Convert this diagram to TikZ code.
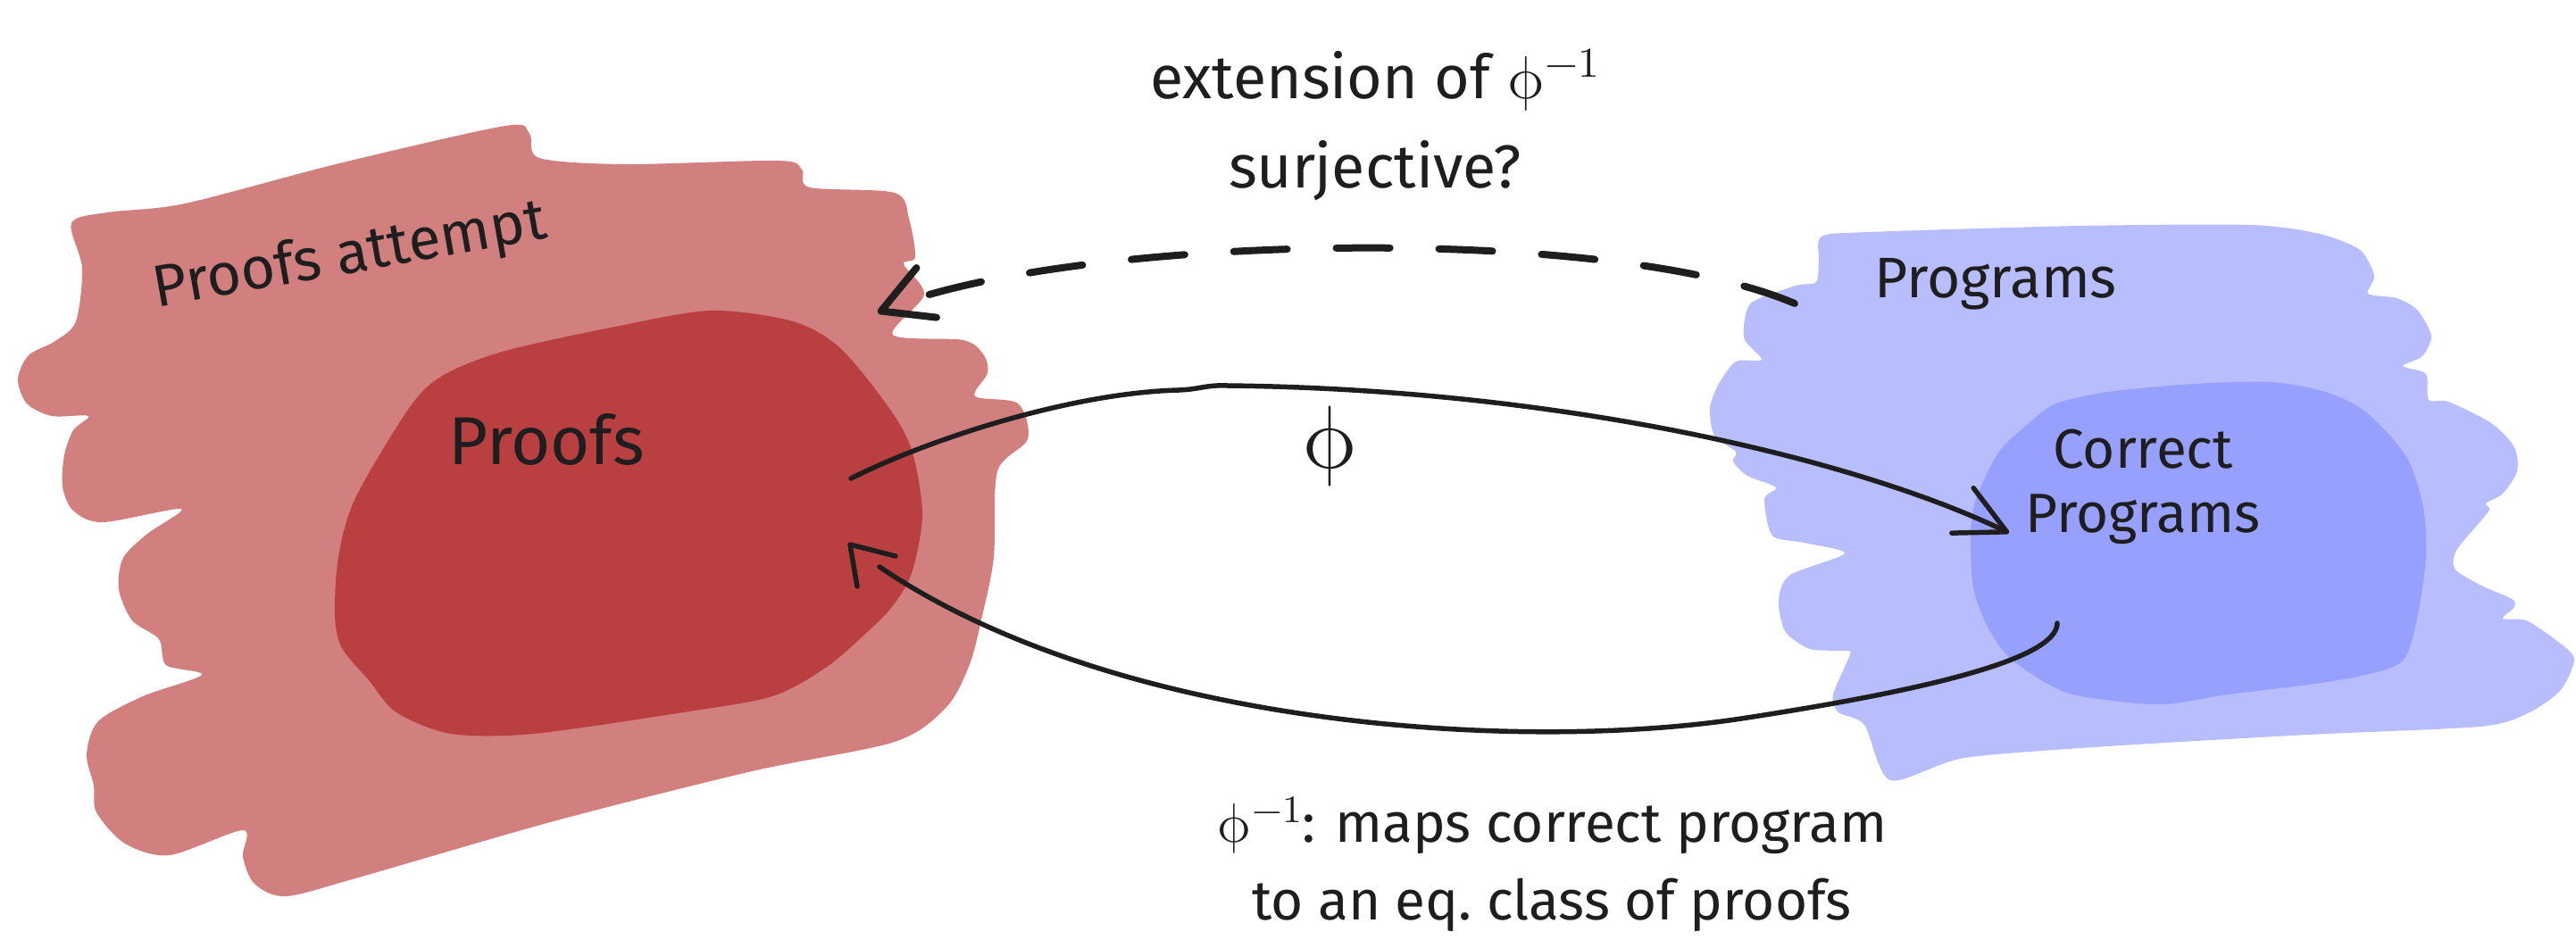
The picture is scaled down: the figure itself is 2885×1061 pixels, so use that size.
\documentclass[tikz,border=0pt]{standalone}
\usepackage{fontspec}
\usepackage{unicode-math}
\setmainfont{Fira Sans}
\setmathfont{Latin Modern Math}
\usetikzlibrary{arrows.meta}
\definecolor{pinkout}{HTML}{D27F7F}
\definecolor{redin}{HTML}{BA3F40}
\definecolor{blueout}{HTML}{B8BEFD}
\definecolor{bluein}{HTML}{97A0FC}
\definecolor{ink}{HTML}{1E1E1E}
\begin{document}
\begin{tikzpicture}[x=1pt,y=-1pt,
  inkline/.style={draw=ink, line width=5.5pt, line cap=round, line join=round},
  dashline/.style={draw=ink, line width=8pt, line cap=round, dash pattern=on 60pt off 55pt},
  lbl/.style={text=ink, inner sep=0pt, align=center}]
\useasboundingbox[fill=white] (0,0) rectangle (2885,1061);
% regions
\fill[pinkout] plot[smooth cycle, tension=0.5] coordinates {
(80,250) (120,238) (207,228) (380,183) (566,141) (593,150) (604,177) (700,184) (872,180) (898,190) (907,210) (1002,216) (1018,245) (1025,288) (1012,296) (1035,330) (1000,375) (1079,381) (1102,398) (1106,418) (1092,444) (1140,452) (1151,492) (1117,528) (1113,624) (1100,690) (1086,744) (1060,792) (1002,831) (842,864) (620,920) (398,984) (320,1004) (285,990) (272,960) (272,930) (190,958) (140,945) (108,910) (105,880) (97,845) (110,808) (160,780) (226,756) (186,745) (178,716) (148,695) (133,660) (138,625) (165,598) (203,570) (115,585) (82,572) (70,545) (72,510) (82,482) (99,466) (58,466) (30,452) (20,425) (32,398) (62,382) (85,360) (92,300)};
\fill[redin] plot[smooth cycle, tension=0.5] coordinates {
(375,690) (379,624) (398,558) (459,456) (497,420) (566,393) (689,366) (796,348) (888,360) (941,390) (995,456) (1021,504) (1033,576) (1021,642) (998,681) (968,711) (926,747) (865,780) (765,798) (597,822) (505,822) (444,798) (413,762) (383,726)};
\fill[blueout] plot[smooth cycle, tension=0.45] coordinates {
(2037,291) (2040,265) (2092,260) (2329,253) (2521,252) (2598,262) (2643,280) (2659,309) (2652,329) (2684,334) (2707,347) (2723,376) (2713,399) (2691,410) (2717,419) (2720,448) (2742,450) (2790,474) (2816,501) (2819,528) (2803,553) (2784,564) (2787,573) (2752,615) (2749,637) (2777,655) (2813,671) (2816,680) (2803,693) (2829,695) (2861,716) (2883,738) (2867,774) (2829,800) (2777,814) (2585,823) (2361,836) (2200,849) (2117,874) (2088,812) (2059,798) (2053,778) (2072,733) (2066,729) (2027,727) (1999,707) (1992,671) (2005,644) (2066,620) (2021,608) (1985,600) (1976,559) (1989,546) (1957,533) (1941,517) (1944,506) (1920,488) (1915,457) (1925,430) (1944,405) (1973,403) (1954,381) (1954,358) (1963,338) (2011,320) (2034,316)};
\fill[bluein] plot[smooth cycle, tension=0.5] coordinates {
(2543,428) (2604,439) (2649,461) (2694,510) (2713,564) (2717,622) (2707,693) (2691,740) (2649,756) (2585,767) (2495,778) (2425,789) (2367,785) (2309,774) (2252,738) (2226,702) (2210,658) (2207,599) (2213,559) (2239,506) (2277,470) (2303,452) (2361,439) (2457,430)};
% labels
\node[lbl, rotate=10, font=\fontsize{66pt}{70pt}\selectfont] (attempt) at (392,288) {Proofs attempt};
\node[lbl, font=\fontsize{76pt}{80pt}\selectfont] (proofs) at (612,492) {Proofs};
\node[lbl, font=\fontsize{64pt}{70pt}\selectfont] (programs) at (2235,318) {Programs};
\node[lbl, font=\fontsize{62pt}{72pt}\selectfont] (correct) at (2400,545) {Correct\\Programs};
\node[lbl, font=\fontsize{100pt}{100pt}\selectfont] (phi) at (1490,500) {$\symup{\phi}$};
\node[lbl, font=\fontsize{68pt}{100pt}\selectfont] (question) at (1540,140) {extension of $\symup{\phi}^{-1}$\\surjective?};
\node[lbl, font=\fontsize{62pt}{87pt}\selectfont] (inverse) at (1738,968) {$\symup{\phi}^{-1}$: maps correct program\\to an eq.\ class of proofs};
% connector end points
\coordinate (dashStart) at (2010,340);
\coordinate (dashEnd) at (983,350);
\coordinate (phiStart) at (953,536);
\coordinate (phiKinkA) at (1320,437);
\coordinate (phiKinkB) at (1375,432);
\coordinate (phiEnd) at (2250,597);
\coordinate (invStart) at (2304,698);
\coordinate (invMid) at (1950,805);
\coordinate (invEnd) at (985,635);
\coordinate (invTip) at (952,610);
\coordinate (invArmA) at (960,657);
\coordinate (invArmB) at (1003,623);
% connectors
\draw[dashline, -{Straight Barb[round, length=55pt, width=60pt]}] (dashStart) .. controls (1800,250) and (1200,262) .. (dashEnd);
\draw[inkline, -{Straight Barb[round, length=55pt, width=56pt]}] (phiStart) .. controls (1040,492) and (1200,440) .. (phiKinkA) .. controls (1345,436) and (1350,431) .. (phiKinkB) .. controls (1750,436) and (2080,515) .. (phiEnd);
\draw[inkline] (invStart) .. controls (2304,735) and (2180,770) .. (invMid) .. controls (1700,843) and (1250,815) .. (invEnd);
\draw[inkline] (invArmA) -- (invTip) -- (invArmB);
\end{tikzpicture}
\end{document}
